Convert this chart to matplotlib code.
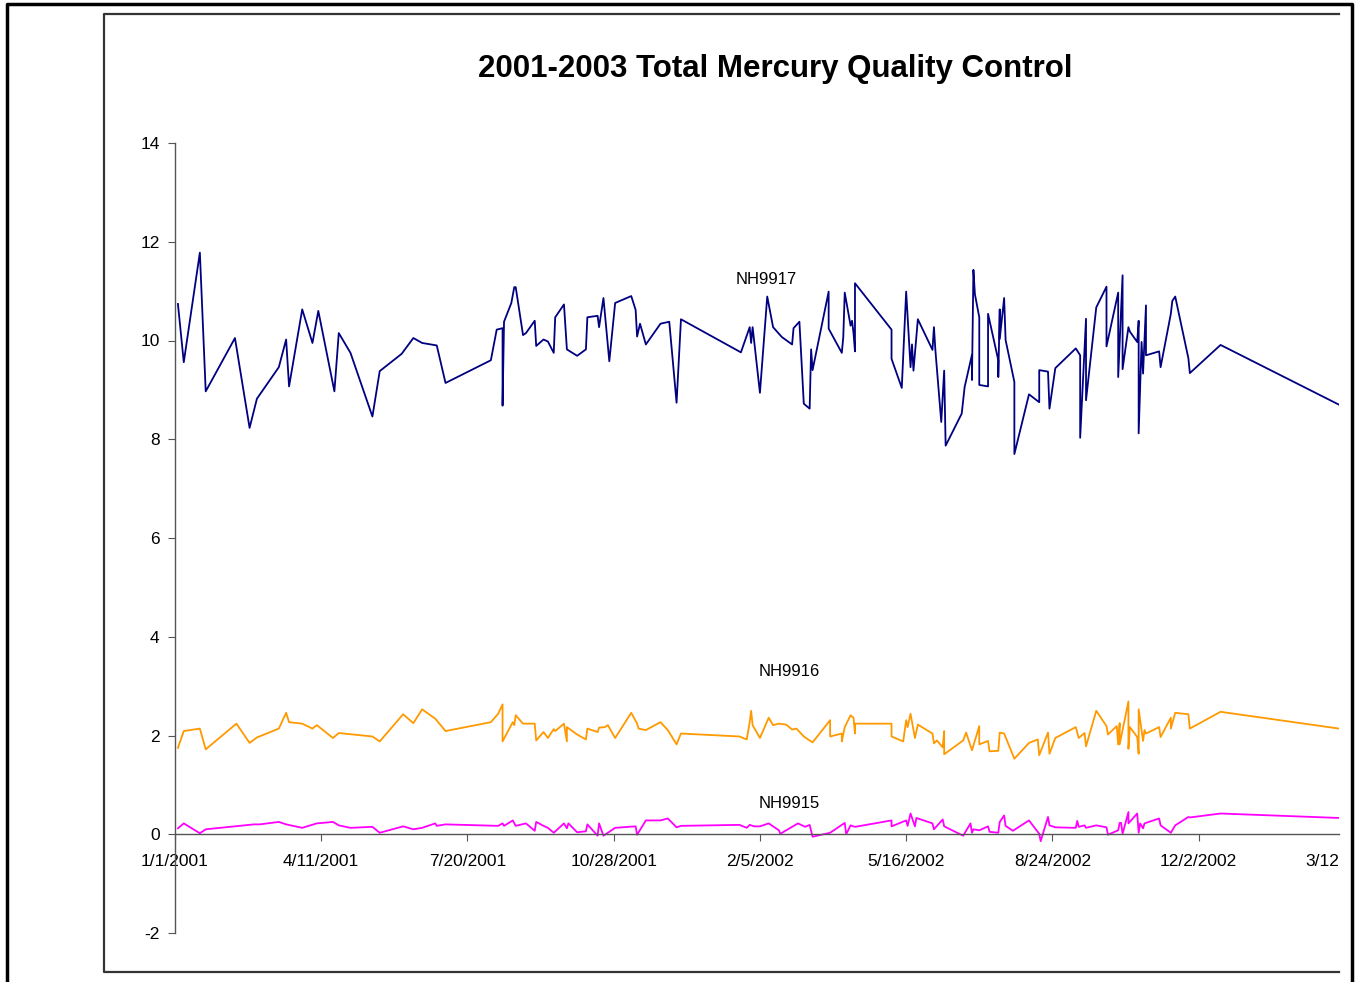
import matplotlib.pyplot as plt
import matplotlib.lines as mlines
import matplotlib.transforms as mtransforms
import pandas as pd

plt.rcParams['font.family'] = ['Liberation Sans', 'DejaVu Sans']
plt.rcParams['axes.unicode_minus'] = False

start = pd.Timestamp('2001-01-01')

# NH9917 (days from 1/1/2001, value)
nh9917_days = [2, 6, 17, 21, 41, 51, 56, 71, 76, 78, 87, 94, 98, 109, 112, 120, 135, 140, 155, 163,
               169, 179, 185, 216, 220, 224, 224, 225, 230, 232, 233, 238, 240, 246, 247, 252, 255, 259, 260, 266,
               268, 275, 281, 282, 289, 290, 293, 297, 301, 312, 315, 316, 318, 322, 332, 338, 343, 346, 387, 392,
               393, 394, 395, 400, 405, 409, 415, 422, 423, 427, 430, 434, 435, 436, 447, 447, 456, 457, 458, 461,
               462, 463, 464, 465, 465, 490, 490, 497, 500, 503, 504, 505, 508, 518, 519, 520, 524, 526, 527, 538,
               540, 545, 545, 546, 547, 550, 550, 556, 556, 563, 563, 564, 564, 567, 568, 574, 574, 584, 591, 591,
               597, 598, 602, 616, 619, 619, 623, 623, 630, 637, 637, 645, 645, 648, 648, 652, 653, 658, 659, 659,
               661, 662, 664, 664, 673, 674, 681, 682, 684, 693, 694, 715, 796]
nh9917_vals = [10.74, 9.56, 11.78, 8.97, 10.05, 8.23, 8.82, 9.46, 10.02, 9.07, 10.63, 9.95, 10.60, 8.97, 10.15, 9.75, 8.46, 9.38, 9.73, 10.05,
               9.95, 9.90, 9.14, 9.60, 10.22, 10.25, 8.68, 10.38, 10.76, 11.08, 11.08, 10.11, 10.15, 10.40, 9.89, 10.02, 9.98, 9.75, 10.47, 10.73,
               9.82, 9.69, 9.82, 10.47, 10.50, 10.27, 10.86, 9.58, 10.76, 10.90, 10.62, 10.08, 10.34, 9.92, 10.34, 10.38, 8.74, 10.43, 9.76, 10.18,
               10.27, 9.95, 10.27, 8.94, 10.89, 10.27, 10.07, 9.92, 10.25, 10.38, 8.72, 8.62, 9.82, 9.40, 10.99, 10.24, 9.75, 10.07, 10.97, 10.47,
               10.30, 10.40, 10.15, 9.78, 11.16, 10.22, 9.63, 9.04, 10.99, 9.46, 9.92, 9.39, 10.43, 9.81, 10.27, 9.80, 8.35, 9.39, 7.87, 8.52,
               9.06, 9.71, 9.20, 11.43, 10.94, 10.47, 9.10, 9.07, 10.54, 9.60, 9.26, 10.63, 10.03, 10.86, 10.01, 9.16, 7.70, 8.91, 8.75, 9.40,
               9.37, 8.62, 9.44, 9.84, 9.70, 8.03, 10.44, 8.79, 10.67, 11.09, 9.88, 10.97, 9.26, 11.32, 9.42, 10.27, 10.18, 9.97, 10.40, 8.12,
               9.97, 9.33, 10.71, 9.70, 9.78, 9.46, 10.54, 10.80, 10.89, 9.64, 9.34, 9.91, 8.70]

# NH9916
nh9916_days = [2, 6, 17, 21, 42, 51, 56, 71, 76, 78, 87, 94, 97, 108, 112, 135, 140, 156, 163, 169,
               178, 185, 216, 221, 224, 224, 231, 232, 233, 238, 246, 247, 252, 255, 259, 260, 266, 268, 268, 275,
               281, 282, 289, 290, 294, 296, 301, 312, 316, 317, 322, 332, 337, 343, 346, 386, 391, 393, 394, 395,
               400, 406, 409, 413, 418, 422, 425, 430, 436, 448, 448, 456, 456, 458, 462, 464, 465, 465, 490, 490,
               498, 500, 501, 503, 506, 508, 518, 519, 521, 525, 526, 526, 539, 541, 545, 550, 550, 556, 557, 563,
               564, 567, 574, 584, 590, 591, 597, 598, 602, 616, 618, 622, 623, 630, 637, 638, 644, 645, 646, 646,
               652, 652, 653, 658, 659, 659, 662, 663, 664, 673, 674, 681, 681, 684, 693, 694, 715, 796]
nh9916_vals = [1.75, 2.09, 2.14, 1.72, 2.24, 1.85, 1.96, 2.14, 2.46, 2.27, 2.24, 2.14, 2.21, 1.95, 2.05, 1.98, 1.88, 2.43, 2.25, 2.53,
               2.34, 2.09, 2.27, 2.44, 2.63, 1.88, 2.27, 2.21, 2.41, 2.24, 2.24, 1.90, 2.07, 1.95, 2.13, 2.09, 2.24, 1.88, 2.17, 2.02,
               1.92, 2.14, 2.07, 2.16, 2.17, 2.21, 1.95, 2.46, 2.24, 2.14, 2.11, 2.27, 2.11, 1.82, 2.04, 1.98, 1.92, 2.27, 2.50, 2.21,
               1.95, 2.36, 2.21, 2.24, 2.22, 2.12, 2.14, 1.98, 1.86, 2.31, 1.98, 2.04, 1.88, 2.17, 2.41, 2.36, 2.04, 2.24, 2.24, 1.98,
               1.88, 2.31, 2.17, 2.44, 1.95, 2.22, 2.04, 1.84, 1.90, 1.76, 2.09, 1.62, 1.90, 2.06, 1.70, 2.19, 1.82, 1.89, 1.68, 1.69,
               2.06, 2.04, 1.53, 1.85, 1.92, 1.60, 2.06, 1.63, 1.95, 2.17, 1.95, 2.05, 1.78, 2.50, 2.19, 2.02, 2.19, 1.82, 2.25, 1.82,
               2.69, 1.73, 2.17, 1.97, 1.63, 2.53, 1.89, 2.11, 2.04, 2.17, 1.97, 2.36, 2.14, 2.46, 2.43, 2.14, 2.48, 2.14]

# NH9915
nh9915_days = [2, 6, 17, 21, 54, 58, 71, 76, 87, 97, 108, 112, 120, 135, 140, 156, 163, 169, 178, 179,
               185, 221, 224, 225, 231, 233, 240, 246, 247, 252, 255, 259, 266, 268, 269, 275, 281, 282, 289, 290,
               293, 301, 315, 316, 322, 332, 337, 343, 346, 386, 391, 393, 396, 400, 406, 413, 414, 422, 426, 431,
               434, 436, 448, 458, 459, 462, 465, 490, 490, 500, 501, 503, 506, 507, 518, 519, 525, 526, 539, 544,
               545, 546, 550, 556, 557, 563, 564, 567, 568, 573, 584, 591, 592, 597, 598, 602, 616, 617, 618, 622,
               623, 630, 637, 638, 645, 646, 647, 648, 652, 652, 658, 659, 660, 662, 663, 673, 674, 681, 684, 693,
               694, 715, 796]
nh9915_vals = [0.12, 0.22, 0.02, 0.10, 0.20, 0.20, 0.25, 0.20, 0.13, 0.22, 0.25, 0.18, 0.13, 0.15, 0.03, 0.16, 0.10, 0.13, 0.22, 0.17,
               0.20, 0.17, 0.22, 0.17, 0.28, 0.17, 0.22, 0.07, 0.25, 0.17, 0.13, 0.03, 0.22, 0.12, 0.22, 0.04, 0.06, 0.20, -0.03, 0.22,
               -0.03, 0.13, 0.16, -0.01, 0.28, 0.28, 0.32, 0.14, 0.17, 0.19, 0.13, 0.19, 0.16, 0.16, 0.22, 0.08, 0.01, 0.15, 0.22, 0.15,
               0.19, -0.05, 0.03, 0.23, 0.00, 0.18, 0.15, 0.28, 0.16, 0.28, 0.17, 0.42, 0.16, 0.33, 0.22, 0.10, 0.30, 0.16, -0.03, 0.22,
               0.03, 0.10, 0.08, 0.16, 0.05, 0.03, 0.25, 0.38, 0.17, 0.07, 0.28, 0.01, -0.14, 0.35, 0.18, 0.14, 0.13, 0.27, 0.15, 0.18,
               0.13, 0.18, 0.14, -0.01, 0.08, 0.23, 0.23, 0.01, 0.45, 0.22, 0.42, 0.03, 0.22, 0.12, 0.22, 0.32, 0.18, 0.03, 0.18, 0.35,
               0.34, 0.42, 0.33]

tick_days = [0, 100, 200, 300, 400, 500, 600, 700]
tick_labels = ['1/1/2001', '4/11/2001', '7/20/2001', '10/28/2001', '2/5/2002', '5/16/2002', '8/24/2002', '12/2/2002']


def to_dates(days):
    return start + pd.to_timedelta(days, unit='D')


W, H = 1357, 982
fig = plt.figure(figsize=(W / 100, H / 100), dpi=100)

# chart frames (Excel style)
fig.add_artist(mlines.Line2D([7 / W, 7 / W, 1352 / W, 1352 / W], [0, 1 - 4 / H, 1 - 4 / H, 0],
                             color='black', lw=2.5))
fig.add_artist(mlines.Line2D([1339 / W, 104 / W, 104 / W, 1339 / W],
                             [1 - 14 / H, 1 - 14 / H, 1 - 972 / H, 1 - 972 / H], color='#333333', lw=1.6))

ax = fig.add_axes([175 / W, 1 - 933 / H, (1339 - 175) / W, (933 - 143) / H])

ax.plot(to_dates(nh9917_days), nh9917_vals, color='#000080', lw=1.3)
ax.plot(to_dates(nh9916_days), nh9916_vals, color='#FF9900', lw=1.3)
ax.plot(to_dates(nh9915_days), nh9915_vals, color='#FF00FF', lw=1.3)

ax.set_xlim(start, start + pd.Timedelta(days=796))
ax.set_ylim(-2, 14)
ax.set_yticks(range(-2, 15, 2))
ax.set_xticks(to_dates(tick_days))
ax.set_xticklabels(tick_labels)

ax.spines['top'].set_visible(False)
ax.spines['right'].set_visible(False)
ax.spines['bottom'].set_position(('data', 0))
for s in ['left', 'bottom']:
    ax.spines[s].set_color('#555555')
    ax.spines[s].set_linewidth(1.0)
ax.tick_params(axis='both', direction='out', length=5, color='#555555', labelsize=12.5)
ax.tick_params(axis='x', pad=9)
ax.tick_params(axis='y', pad=6)

# last date label, clipped by the chart edge in the original
trans = mtransforms.blended_transform_factory(ax.transAxes, ax.transData)
ax.text(1.0, -0.55, '3/12', transform=trans, ha='right', va='center', fontsize=12.5)

ax.text(to_dates([404])[0], 11.23, 'NH9917', ha='center', va='center', fontsize=12)
ax.text(to_dates([420])[0], 3.30, 'NH9916', ha='center', va='center', fontsize=12)
ax.text(to_dates([420])[0], 0.63, 'NH9915', ha='center', va='center', fontsize=12)

fig.text(775 / W, 1 - 69 / H, '2001-2003 Total Mercury Quality Control', ha='center', va='center',
         fontsize=22.5, fontweight='bold')

fig.savefig('out.png', dpi=100)
